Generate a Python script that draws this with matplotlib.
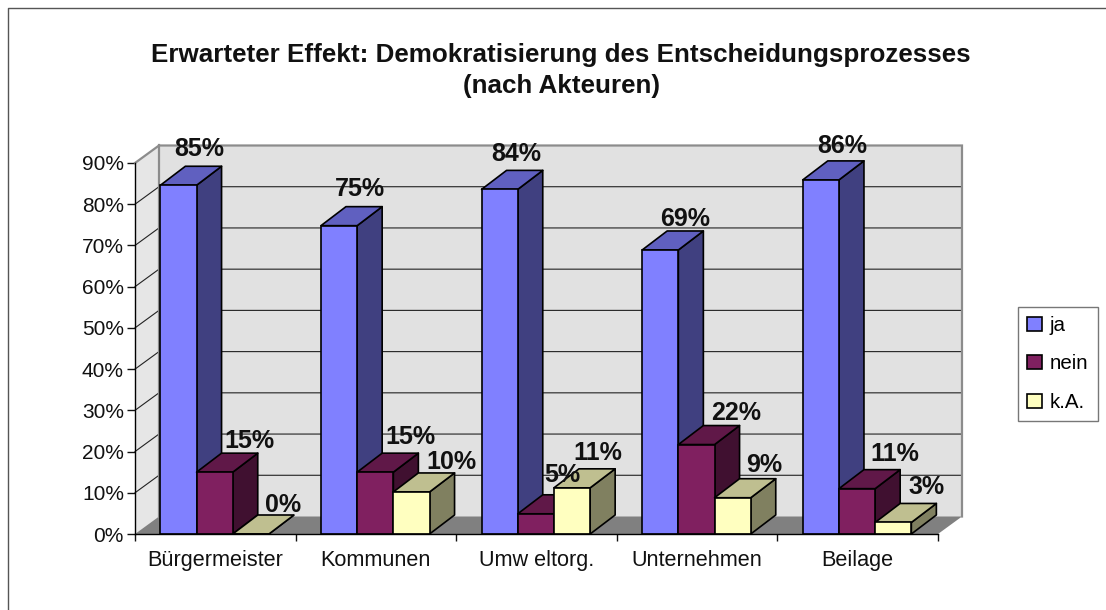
import matplotlib
matplotlib.use("Agg")
import matplotlib.pyplot as plt
from matplotlib.patches import Polygon, Patch
from matplotlib.ticker import FuncFormatter

categories = ["Bürgermeister", "Kommunen", "Umw eltorg.", "Unternehmen", "Beilage"]
series_names = ["ja", "nein", "k.A."]
ja = [84.6, 74.8, 83.6, 68.9, 85.9]
nein = [15.0, 15.0, 4.9, 21.7, 11.0]
ka = [0.0, 10.2, 11.2, 8.8, 2.8]
title = "Erwarteter Effekt: Demokratisierung des Entscheidungsprozesses\n(nach Akteuren)"

W, H = 1106, 610
FRONT = ["#8080FF", "#802060", "#FFFFC0"]
TOP = ["#6060C0", "#601848", "#BFBF90"]
SIDE = ["#404080", "#401030", "#808060"]
# label offsets in pixels from the top centre of each bar's front face
LABEL_OFFSETS = [
    [(20, 36), (20, 37), (16, 35), (24, 31), (21, 34)],
    [(34, 31), (35, 35), (26, 39), (39, 32), (37, 35)],
    [(32, 29), (39, 30), (25, 35), (31, 33), (33, 35)],
]

plt.rcParams["font.family"] = ["Liberation Sans", "DejaVu Sans"]
fig = plt.figure(figsize=(W / 100, H / 100), dpi=100, facecolor="white")
L, R, T, B = 135, 938, 163, 534
ax = fig.add_axes([L / W, 1 - B / H, (R - L) / W, (B - T) / H])
ax.set_xlim(0, len(categories))
ax.set_ylim(0, 90)
ax.patch.set_visible(False)

# depth of the 3-D box, data units
ddx = 24 / ((R - L) / len(categories))
ddy = 17.5 / ((B - T) / 90)
bdx = 25 / ((R - L) / len(categories))
bdy = 19 / ((B - T) / 90)
n = len(categories)

# walls and floor
ax.add_patch(Polygon([(0, 0), (ddx, ddy), (ddx, 90 + ddy), (0, 90)], closed=True,
                     fc="#E6E6E6", ec="none", clip_on=False, zorder=1))
ax.add_patch(Polygon([(ddx, ddy), (n + ddx, ddy), (n + ddx, 90 + ddy), (ddx, 90 + ddy)], closed=True,
                     fc="#E1E1E1", ec="none", clip_on=False, zorder=1))
ax.add_patch(Polygon([(0, 0), (n, 0), (n + ddx, ddy), (ddx, ddy)], closed=True,
                     fc="#808080", ec="none", clip_on=False, zorder=1))
for y in range(10, 90, 10):
    ax.plot([0, ddx, n + ddx], [y, y + ddy, y + ddy], color="#222222", lw=0.8,
            clip_on=False, zorder=2)
ax.plot([0, ddx, n + ddx, n + ddx], [90, 90 + ddy, 90 + ddy, ddy], color="#8C8C8C", lw=1.6,
        clip_on=False, zorder=2, solid_joinstyle="miter")
ax.plot([ddx, ddx], [ddy, 90 + ddy], color="#8C8C8C", lw=1.6, clip_on=False, zorder=2)

# bars
bw = 0.2254
shift = -0.004
z = 3
for i in range(n):
    for s, vals in enumerate([ja, nein, ka]):
        v = vals[i]
        x0 = i + 0.5 + shift + (s - 1.5) * bw
        x1 = x0 + bw
        ax.add_patch(Polygon([(x1, 0), (x1 + bdx, bdy), (x1 + bdx, v + bdy), (x1, v)], closed=True,
                             fc=SIDE[s], ec="black", lw=1.2, clip_on=False, zorder=z,
                             joinstyle="round"))
        ax.add_patch(Polygon([(x0, v), (x0 + bdx, v + bdy), (x1 + bdx, v + bdy), (x1, v)], closed=True,
                             fc=TOP[s], ec="black", lw=1.2, clip_on=False, zorder=z,
                             joinstyle="round"))
        ax.bar(x0, v, width=bw, align="edge", color=FRONT[s], edgecolor="black", lw=1.2,
               clip_on=False, zorder=z + 0.5)
        z += 1

for s, vals in enumerate([ja, nein, ka]):
    for i, v in enumerate(vals):
        xc = i + 0.5 + (s - 1) * bw
        ax.annotate(f"{v:.0f}%", (xc, v), xytext=LABEL_OFFSETS[s][i], textcoords="offset pixels",
                    ha="center", va="center", fontsize=18, fontweight="bold", color="#111111",
                    zorder=100, annotation_clip=False)

# axes
for name in ["top", "right"]:
    ax.spines[name].set_visible(False)
for name in ["left", "bottom"]:
    ax.spines[name].set_linewidth(1.0)
    ax.spines[name].set_zorder(50)
ax.set_yticks(range(0, 100, 10))
ax.yaxis.set_major_formatter(FuncFormatter(lambda v, _: f"{v:.0f}%"))
ax.set_xticks(range(n + 1))
ax.set_xticklabels([""] * (n + 1))
ax.set_xticks([i + 0.5 for i in range(n)], labels=categories, minor=True)
ax.tick_params(axis="y", labelsize=15, length=5.5, width=1.0, pad=2.5, color="#111111", labelcolor="#111111")
ax.tick_params(axis="x", which="major", length=5, width=1.0, color="#111111")
ax.tick_params(axis="x", which="minor", length=0, labelsize=15.6, pad=11.5, labelcolor="#111111")

fig.suptitle(title, x=561 / W, y=1 - 70.5 / H, va="center", ha="center",
             fontsize=18.7, fontweight="bold", color="#111111", linespacing=1.4)

# outer chart frame (left and top edges are visible)
fig.add_artist(plt.Line2D([8 / W, 8 / W, 1], [0, 1 - 8 / H, 1 - 8 / H], color="#555555", lw=1.0,
                          transform=fig.transFigure))

handles = [Patch(fc=FRONT[k], ec="black", lw=1.2, label=series_names[k]) for k in range(3)]
fig.legend(handles=handles, loc="center", bbox_to_anchor=(1058 / W, 1 - 364 / H), fontsize=14.8,
           frameon=True, fancybox=False, edgecolor="#777777", framealpha=1, handlelength=0.7,
           handleheight=0.7, handletextpad=0.4, labelspacing=0.95, borderpad=0.45, borderaxespad=0)

fig.savefig("out.png", dpi=100)
